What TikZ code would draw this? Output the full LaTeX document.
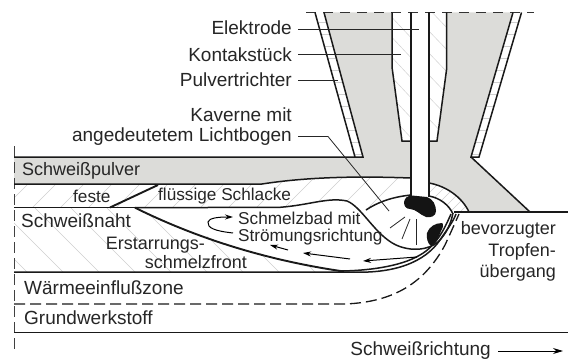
\documentclass[tikz,border=0pt]{standalone}
\usepackage{fontspec}
\setmainfont{Liberation Sans}
\usetikzlibrary{arrows.meta}
\definecolor{powder}{HTML}{DCDCD9}
\definecolor{hatchc}{HTML}{CFCFCF}
\tikzset{
 lab/.style={font=\fontsize{19}{22}\selectfont,inner sep=0pt,text=black!85},
 labm/.style={font=\fontsize{18}{21}\selectfont,inner sep=0pt,text=black!85},
 labs/.style={font=\fontsize{17.2}{20}\selectfont,inner sep=0pt,text=black!85},
 bold/.style={line width=1.5pt,black!90},
 heavy/.style={line width=1.9pt,black!90},
 thin1/.style={line width=0.8pt,black!85},
 hatch/.style={line width=0.45pt,hatchc},
 flow/.style={line width=1pt,-{Stealth[length=8pt,width=5pt]}}
}
\begin{document}
\begin{tikzpicture}[x=1pt,y=-1pt]
\useasboundingbox (0,0) rectangle (568,361);
\fill[white] (0,0) rectangle (568,361);
% powder
\fill[powder] (14,157) -- (363,157) -- (324,12.5) -- (392,12.5) -- (392,67) -- (402,141) -- (411,141) -- (411,178)
  .. controls (380,177) and (320,175) .. (262,184) -- (14,184) -- cycle;
\fill[powder] (429,141) -- (437,141) -- (446.5,70) -- (446.5,12.5) -- (513,12.5) -- (471,157) -- (530,212) -- (469,212)
  .. controls (462,197) and (446,186) .. (429,183) -- cycle;
% hatching: slag
\begin{scope}
\clip (14,184) -- (262,184) .. controls (320,175) and (380,177) .. (411,178) -- (411,195) .. controls (392,197) and (378,203) .. (367,211) -- (347,200) -- (310,202) -- (285,207) -- (14,207.7) -- cycle;
\foreach \i in {0,28,...,440} \draw[hatch] (\i,212) -- (\i+40,172);
\end{scope}
\begin{scope}
\clip (429,183) .. controls (446,186) and (462,197) .. (469,212) -- (453,214) .. controls (449,205) and (440,198) .. (429,196) -- cycle;
\foreach \i in {410,420,...,470} \draw[hatch] (\i,212) -- (\i+30,182);
\end{scope}
% hatching: weld
\begin{scope}
\clip (14,207.7) -- (135,207.7) -- (180,227) -- (247,250) -- (303,263) -- (344,272) -- (14,272) -- cycle;
\foreach \i in {-40,-4,...,340} \draw[hatch] (\i,205) -- (\i+70,275);
\end{scope}
% hatching: contact tip
\begin{scope}
\clip (392,12.5) -- (392,67) -- (402,141) -- (411,141) -- (411,12.5) -- cycle;
\foreach \i in {10,30,...,130} \draw[hatch] (385,\i) -- (415,\i+32);
\end{scope}
\begin{scope}
\clip (429,12.5) -- (429,141) -- (437,141) -- (446.5,70) -- (446.5,12.5) -- cycle;
\foreach \i in {5,27,...,125} \draw[hatch] (425,\i) -- (450,\i+26);
\end{scope}
% hatching: funnel walls
\begin{scope}
\clip (315,12.5) -- (324,12.5) -- (363,157) -- (355,157) -- cycle;
\foreach \i in {22,34,...,154} \draw[hatch] (310,\i) -- (370,\i);
\end{scope}
\begin{scope}
\clip (513,12.5) -- (521.5,12.5) -- (479,157) -- (471,157) -- cycle;
\foreach \i in {22,34,...,154} \draw[hatch] (465,\i) -- (525,\i);
\end{scope}
% top dashed line
\coordinate (topL) at (306,12.5); \coordinate (topR) at (534,12.5);
\draw[line width=0.8pt,black!80,dash pattern=on 10pt off 7pt] (topL) -- (topR);
% axis
\coordinate (axT) at (14.5,146); \coordinate (axB) at (14.5,349);
\draw[line width=0.7pt,black!75,dash pattern=on 11pt off 5pt] (axT) -- (axB);
% funnel
\draw[bold] (315,12.5) -- (355,157);
\draw[bold] (324,12.5) -- (363,157) -- (14,157);
\draw[bold] (513,12.5) -- (471,157) -- (479,157) -- (521.5,12.5);
\draw[bold] (471,157) -- (530,212);
% contact tip
\draw[bold] (392,12.5) -- (392,67) -- (402,141) -- (411,141);
\draw[bold] (446.5,12.5) -- (446.5,70) -- (437,141) -- (429,141);
% electrode
\draw[bold] (411,12.5) -- (411,197);
\draw[bold] (429,12.5) -- (429,197);
% layers
\draw[bold] (14,184) -- (262,184) .. controls (320,175) and (380,177) .. (411,178);
\draw[bold] (429,183) .. controls (446,186) and (462,197) .. (469,212);
\draw[bold] (14,207.7) -- (135,207.7);
\draw[heavy] (110,207.5) -- (158,185);
\draw[bold] (454,212) -- (568,212);
% slag underside and pool
\draw[bold] (135,207.7) -- (280,207.3) .. controls (310,205) and (328,197) .. (347,201)
  .. controls (362,207) and (375,235) .. (396,245) .. controls (412,252) and (428,250) .. (438,242)
  .. controls (447,233) and (451,223) .. (453,213);
% cavern
\draw[bold] (366,210) .. controls (378,202) and (392,197) .. (411,195);
\draw[bold] (429,196) .. controls (440,198) and (449,205) .. (453,214);
% solidification front
\draw[heavy] (135,207.7) .. controls (180,230) and (250,258) .. (344,271.5);
\draw[bold] (14,272) -- (350,272) .. controls (395,274) and (425,262) .. (440,240) .. controls (448,228) and (453,222) .. (456,214);
\draw[bold] (338,271) .. controls (365,271) and (400,267) .. (420,255) .. controls (438,245) and (446,225) .. (451,214);
% HAZ dashed
\draw[line width=1.3pt,black!90,dash pattern=on 11pt off 5pt] (14,304) -- (345,304) .. controls (395,302) and (425,282) .. (445,245) .. controls (451,232) and (455,223) .. (459,214);
% base
\coordinate (baseL) at (14,332.5); \coordinate (baseR) at (568,332.5);
\draw[line width=1pt,black!90] (baseL) -- (baseR);
% blobs
\fill[black!92] (404,202) .. controls (405,197) and (408,196) .. (412,195.5) -- (427,197) .. controls (433,199) and (436,205) .. (436,211)
  .. controls (436,216) and (431,218) .. (426,217) .. controls (420,215) and (416,209) .. (410,209) .. controls (406,209) and (404,206) .. (404,202) -- cycle;
\fill[black!92] (427,233) .. controls (429,227) and (435,223) .. (442,223) .. controls (444,224) and (443,228) .. (441,231)
  .. controls (439,237) and (436,242) .. (431,246) .. controls (428,244) and (426,238) .. (427,233) -- cycle;
% rays
\draw[thin1] (390,228) -- (405,217);
\draw[thin1] (402,239) -- (410,219);
\draw[thin1] (416,245) -- (416,219);
% flow arrows
\coordinate (f1a) at (417,257); \coordinate (f1b) at (363,261);
\coordinate (f2a) at (350,259); \coordinate (f2b) at (303,253);
\coordinate (f3a) at (288,250); \coordinate (f3b) at (270,245);
\draw[flow] (f1a) -- (f1b);
\draw[flow] (f2a) -- (f2b);
\draw[flow] (f3a) -- (f3b);
\coordinate (swS) at (233,233); \coordinate (swE) at (233,217);
\draw[flow] (swS) .. controls (215,231) and (207,228) .. (208,222) .. controls (209,218) and (218,217) .. (swE);
% labels
\node[lab,anchor=east] (elek) at (292,28) {Elektrode};
\node[lab,anchor=east] (kont) at (292,54.5) {Kontakstück};
\node[lab,anchor=east] (pulv) at (292,80) {Pulvertrichter};
\node[lab,anchor=east] (kav1) at (292,115) {Kaverne mit};
\node[lab,anchor=east] (kav2) at (292,137) {angedeutetem Lichtbogen};
\coordinate (elekE) at (419,29); \coordinate (kontE) at (401,54.5); \coordinate (pulvE) at (338,80);
\coordinate (kavK) at (328,136.5); \coordinate (kavE) at (389,211);
\draw[thin1] (elek.east) ++(6,1) -- (elekE);
\draw[thin1] (kont.east) ++(6,0) -- (kontE);
\draw[thin1] (pulv.east) ++(6,0) -- (pulvE);
\draw[thin1] (kav2.east) ++(6,-0.5) -- (kavK) -- (kavE);
\node[labm,anchor=west] (spulver) at (22,171) {Schweißpulver};
\node[labs,anchor=west] (feste) at (73,196) {feste};
\node[labs,anchor=west] (fluess) at (158,196) {flüssige Schlacke};
\node[lab,anchor=west] (snaht) at (21,221) {Schweißnaht};
\node[labm,anchor=east] (erst1) at (205,245) {Erstarrungs-};
\node[labm,anchor=east] (erst2) at (247,262) {schmelzfront};
\node[labs,anchor=west] (sbad) at (238,218) {Schmelzbad mit};
\node[labs,anchor=west] (stroem) at (238,237) {Strömungsrichtung};
\node[labm,anchor=east] (bev1) at (556,230) {bevorzugter};
\node[labm,anchor=east] (bev2) at (556,252) {Tropfen-};
\node[labm,anchor=east] (bev3) at (556,273) {übergang};
\node[lab,anchor=west] (wez) at (24,288) {Wärmeeinflußzone};
\node[lab,anchor=west] (grund) at (24,318) {Grundwerkstoff};
\node[lab,anchor=east] (srich) at (491,351) {Schweißrichtung};
\coordinate (srE) at (563,351);
\draw[line width=0.9pt,-{Stealth[length=10pt,width=6pt]}] (srich.east) ++(7,0) -- (srE);
\end{tikzpicture}
\end{document}
